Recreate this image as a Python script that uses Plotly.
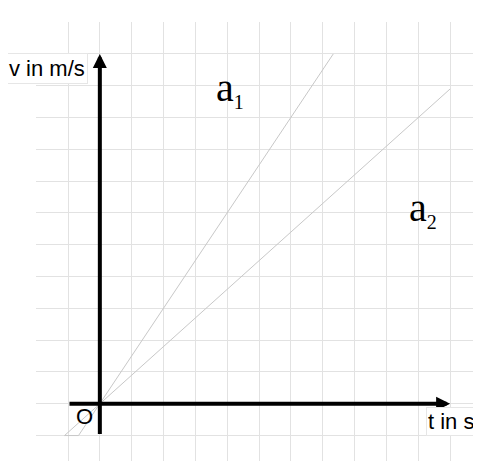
import plotly.graph_objects as go

# --- Data (grid units: 1 box = 1 unit) ---------------------
a1_t = [-0.67, 7.33]
a1_v = [-1.0, 11.0]
a2_t = [-1.11, 11.0]
a2_v = [-1.0, 9.9]

axis_t = [-1, 11]
axis_v = [-1, 11]

fig = go.Figure()

# two lines through the origin (joined at the bottom like in the sketch)
fig.add_trace(go.Scatter(
    x=a2_t[::-1] + a1_t,
    y=a2_v[::-1] + a1_v,
    mode="lines",
    line=dict(color="#c8c8c8", width=1),
    hoverinfo="skip",
))

# axes as arrows
arrow_style = dict(showarrow=True, arrowhead=2, arrowwidth=4, arrowsize=0.7,
                   arrowcolor="black", standoff=0, text="",
                   xref="x", yref="y", axref="x", ayref="y")
fig.add_annotation(x=axis_t[1], y=0, ax=axis_t[0], ay=0, **arrow_style)
fig.add_annotation(x=0, y=axis_v[1], ax=0, ay=axis_v[0], **arrow_style)

label_font = dict(family="Liberation Sans, Arial", size=22, color="black")
fig.add_annotation(x=-0.38, y=10.53, text="v in m/s", showarrow=False,
                   xanchor="right",
                   font=label_font, bgcolor="white", bordercolor="#e6e6e6",
                   borderwidth=1, borderpad=2)
fig.add_annotation(x=10.24, y=-0.55, text="t in s", showarrow=False,
                   xanchor="left",
                   font=label_font, bgcolor="white", bordercolor="#e6e6e6",
                   borderwidth=1, borderpad=1)
fig.add_annotation(x=-0.47, y=-0.39, text="O", showarrow=False,
                   font=label_font)

serif = dict(family="Liberation Serif, Times New Roman", size=40, color="black")
fig.add_annotation(x=4.08, y=9.9, showarrow=False, font=serif,
                   text="a<sub><span style='font-size:20px'>1</span></sub>")
fig.add_annotation(x=10.16, y=6.12, showarrow=False, font=serif,
                   text="a<sub><span style='font-size:20px'>2</span></sub>")

grid = dict(showgrid=True, gridcolor="#e2e2e2", gridwidth=1, dtick=1,
            tick0=0, zeroline=False, showticklabels=False, ticks="",
            showline=False, fixedrange=True)
fig.update_xaxes(range=[-2.005, 11.97], **grid)
fig.update_yaxes(range=[-1.8, 12.005], **grid)

# page body adds an 8px margin, so the figure is 8px smaller on each side
fig.update_layout(
    width=473, height=453,
    margin=dict(l=28, r=0, t=14, b=0, pad=0),
    paper_bgcolor="white", plot_bgcolor="white",
    showlegend=False,
)

fig.write_html("out.html")
